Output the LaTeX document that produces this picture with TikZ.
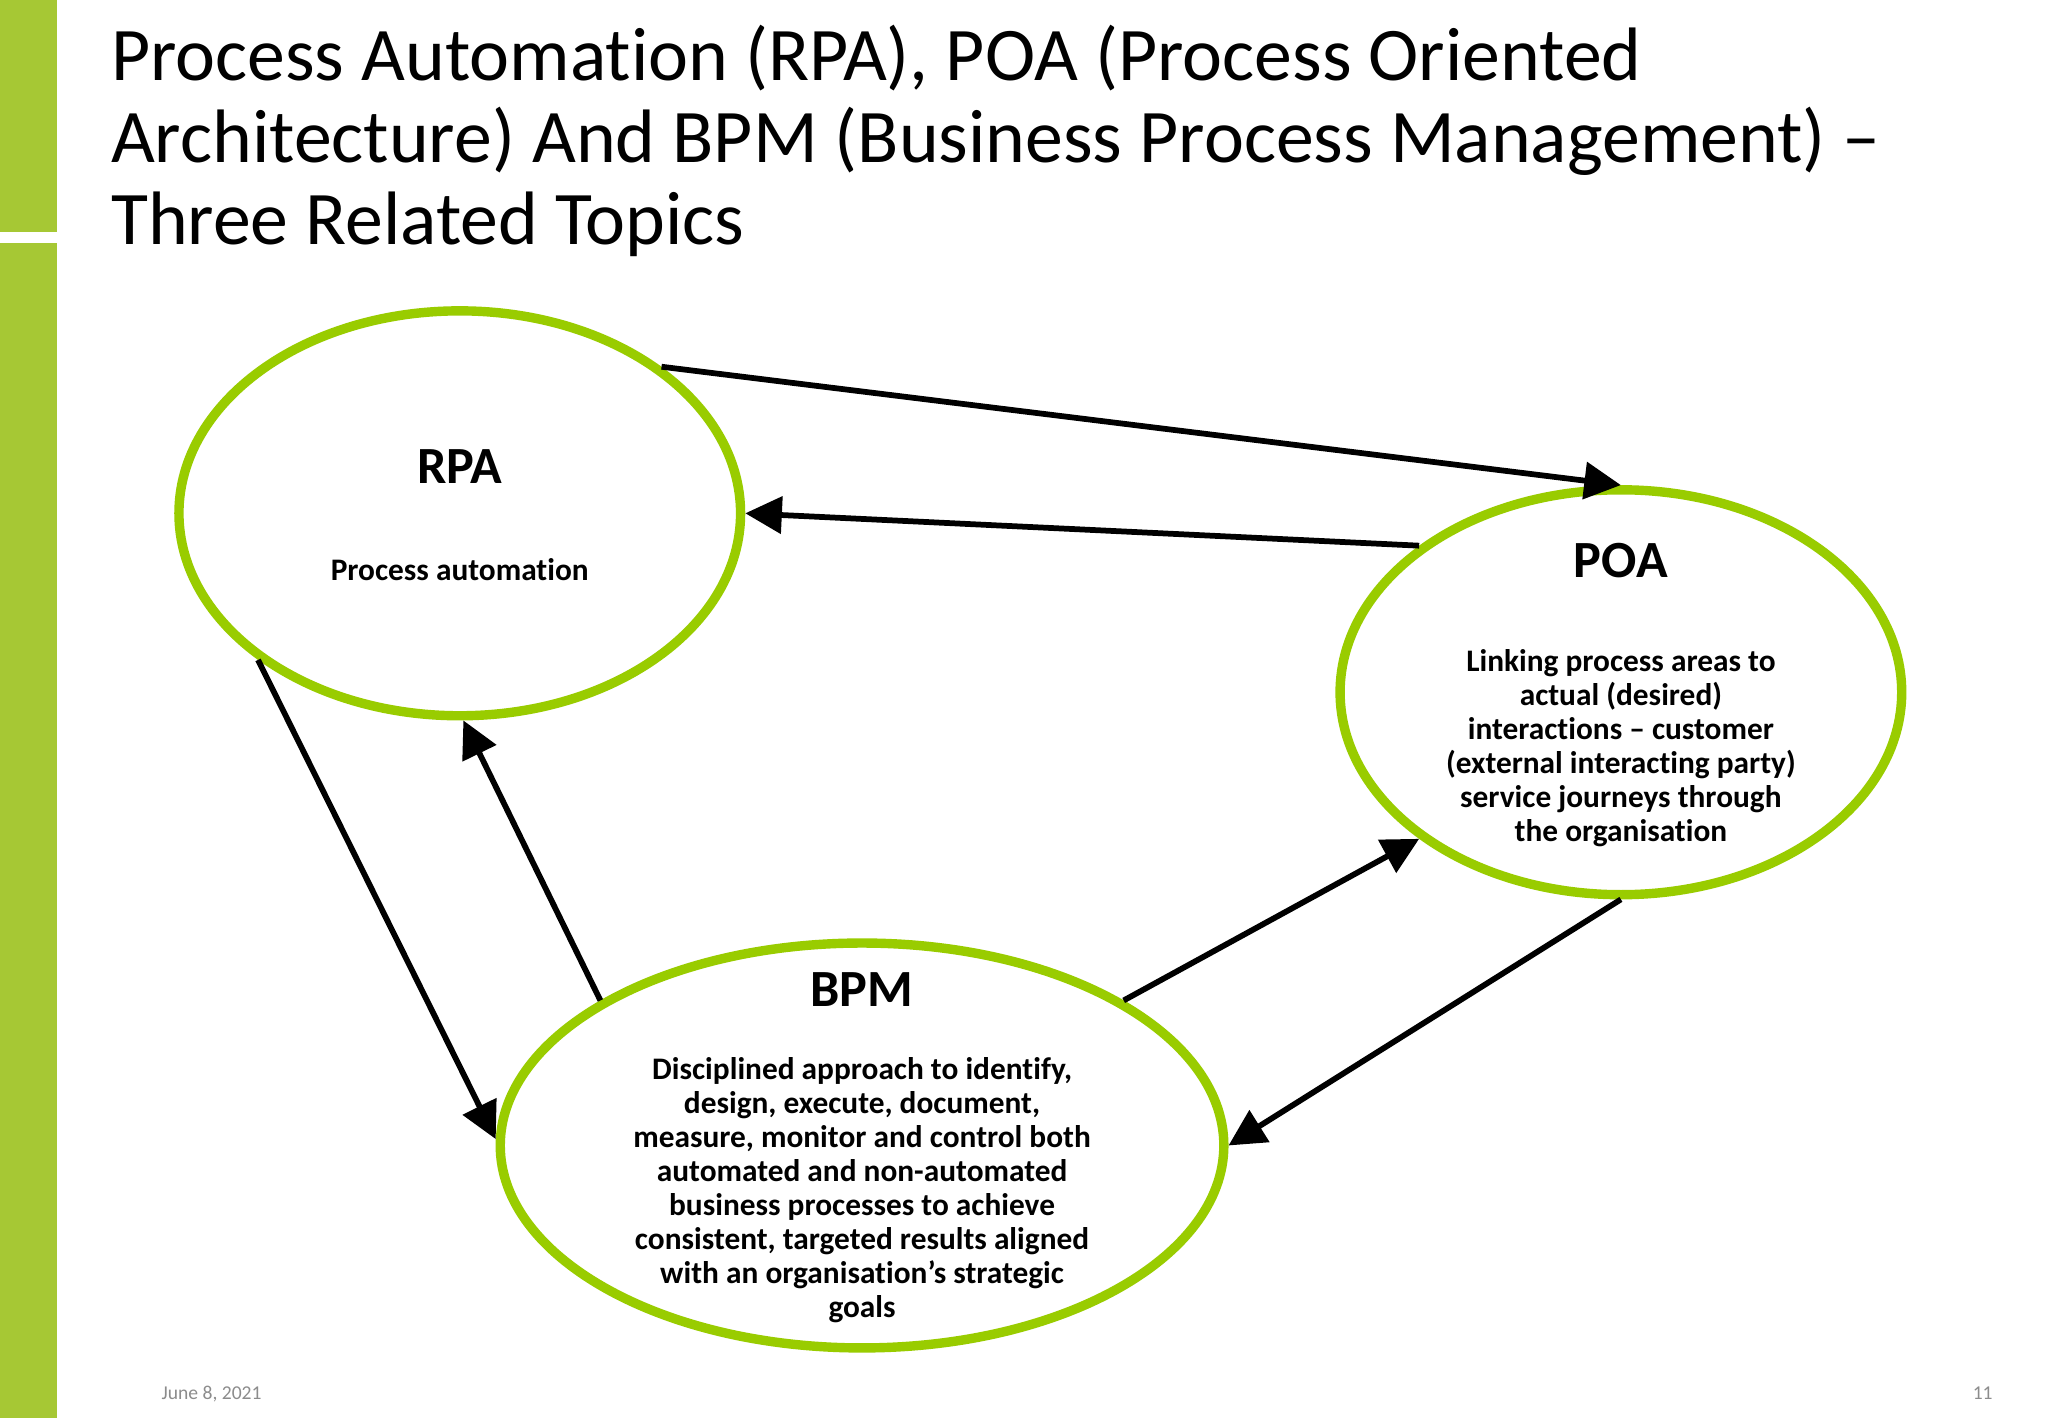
\documentclass[tikz,border=0pt]{standalone}
\usepackage{fontspec}
\setmainfont[RawFeature=-liga]{Carlito}
\usetikzlibrary{shapes.geometric,arrows.meta}
\definecolor{ringgreen}{RGB}{153,204,0}
\definecolor{bargreen}{RGB}{166,200,52}
\definecolor{footgrey}{RGB}{140,140,140}
\begin{document}
\begin{tikzpicture}[x=0.5pt,y=-0.5pt,
  ring/.style={draw=ringgreen,line width=3.6pt,ellipse,inner sep=0pt,fill=white},
  conn/.style={line width=2.2pt,-{Triangle[length=14pt,width=14pt]}},
  head/.style={font=\fontsize{20}{22}\selectfont\bfseries},
  body/.style={font=\fontsize{12}{13}\selectfont\bfseries,align=center}]
\useasboundingbox[fill=white] (0,0) rectangle (1568,1086);
\fill[bargreen] (0,0) rectangle (44,178);
\fill[bargreen] (0,186) rectangle (44,1086);
\node[anchor=west,align=left,font=\fontsize{29}{31.5}\selectfont] (title) at (78,108)
 {Process Automation (RPA), POA (Process Oriented\\Architecture) And BPM (Business Process Management) –\\Three Related Topics};
\node[ring,minimum width=215pt,minimum height=155pt] (rpa) at (352,393) {};
\node[ring,minimum width=215pt,minimum height=155pt] (poa) at (1241,530) {};
\node[ring,minimum width=277pt,minimum height=155pt] (bpm) at (660,877) {};
\node[head] (rpah) at (352,357) {RPA};
\node[body] (rpat) at (352,436) {Process automation};
\node[head] (poah) at (1241,429) {POA};
\node[body] (poat) at (1241,573) {Linking process areas to\\actual (desired)\\interactions – customer\\(external interacting party)\\service journeys through\\the organisation};
\node[head] (bpmh) at (660,758) {BPM};
\node[body] (bpmt) at (660,911) {Disciplined approach to identify,\\design, execute, document,\\measure, monitor and control both\\automated and non-automated\\business processes to achieve\\consistent, targeted results aligned\\with an organisation’s strategic\\goals};
\draw[conn] (rpa.36) -- (poa.90);
\draw[conn] (poa.144) -- (rpa.0);
\draw[conn] (rpa.216) -- (bpm.179);
\draw[conn] (bpm.151) -- (rpa.271);
\draw[conn] (bpm.29) -- (poa.216);
\draw[conn] (poa.270) -- (bpm.0);
\node[font=\fontsize{7.5}{9}\selectfont,text=footgrey] (date) at (162,1067) {June 8, 2021};
\node[font=\fontsize{7.5}{9}\selectfont,text=footgrey] (page) at (1518,1067) {11};
\end{tikzpicture}
\end{document}
